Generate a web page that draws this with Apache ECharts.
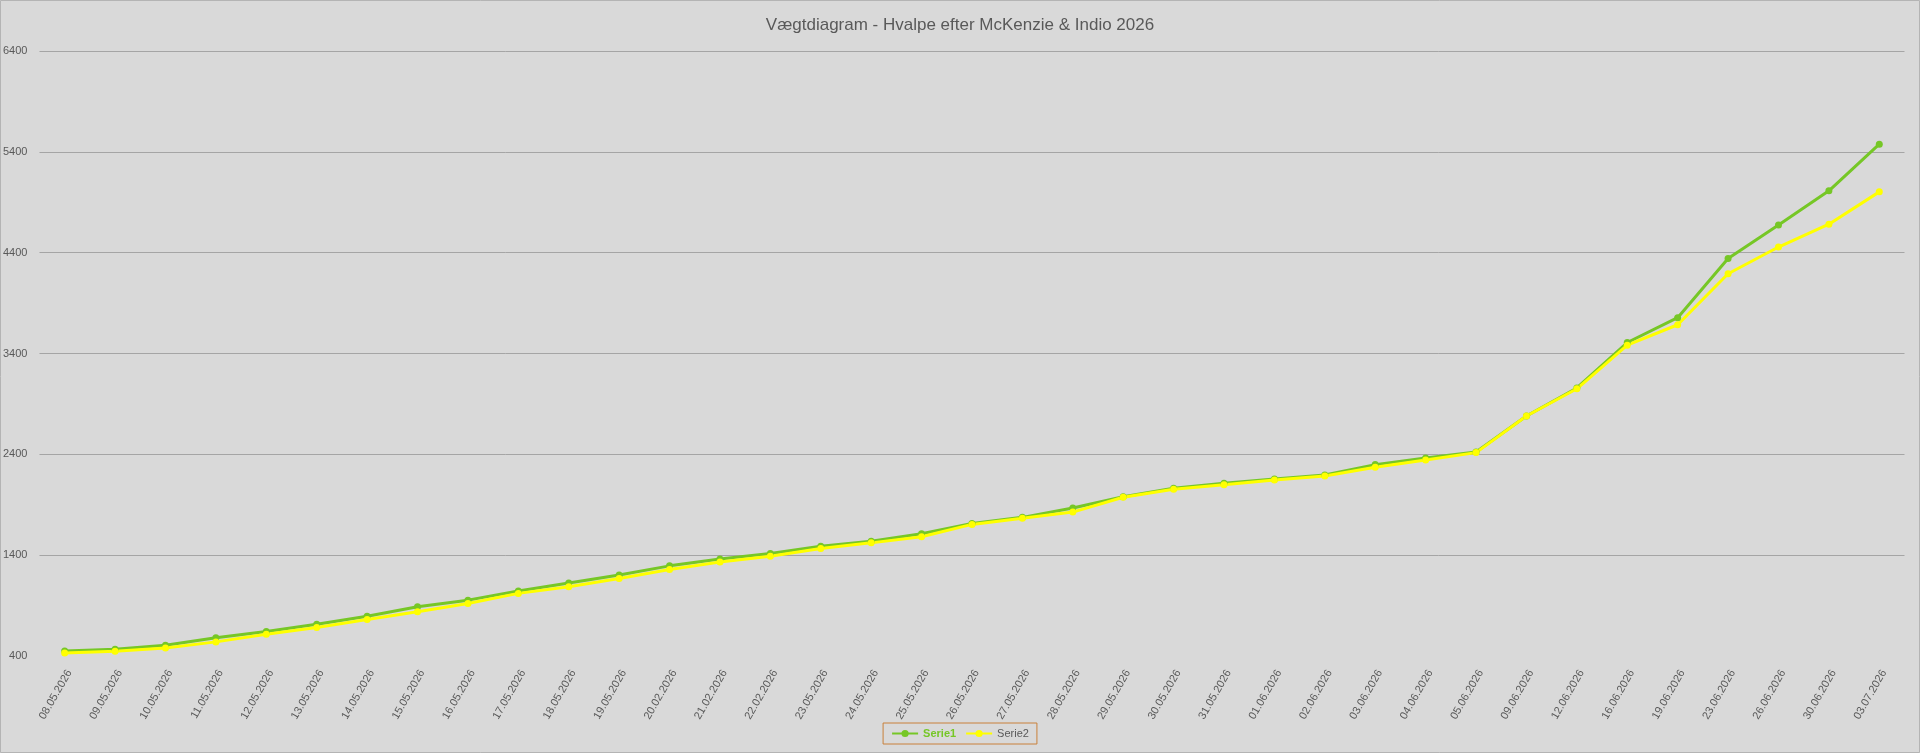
<!DOCTYPE html>
<html>
<head>
<meta charset="utf-8">
<script src="https://cdn.jsdelivr.net/npm/echarts@6/dist/echarts.min.js"></script>
<style>
html,body{margin:0;padding:0;background:#d9d9d9;}
#c{width:1920px;height:753px;}
</style>
</head>
<body>
<div id="c"></div>
<script>
const categories = ['08.05.2026','09.05.2026','10.05.2026','11.05.2026','12.05.2026','13.05.2026','14.05.2026','15.05.2026','16.05.2026','17.05.2026','18.05.2026','19.05.2026','20.02.2026','21.02.2026','22.02.2026','23.05.2026','24.05.2026','25.05.2026','26.05.2026','27.05.2026','28.05.2026','29.05.2026','30.05.2026','31.05.2026','01.06.2026','02.06.2026','03.06.2026','04.06.2026','05.06.2026','09.06.2026','12.06.2026','16.06.2026','19.06.2026','23.06.2026','26.06.2026','30.06.2026','03.07.2026'];
const serie1 = [450, 467, 507, 580, 642, 715, 795, 888, 954, 1044, 1125, 1204, 1294, 1363, 1417, 1489, 1539, 1612, 1715, 1775, 1867, 1980, 2063, 2113, 2156, 2196, 2298, 2364, 2424, 2780, 3058, 3509, 3755, 4343, 4675, 5013, 5476];
const serie2 = [430, 447, 480, 540, 616, 682, 762, 838, 921, 1021, 1086, 1169, 1258, 1333, 1390, 1466, 1522, 1582, 1705, 1765, 1827, 1975, 2053, 2099, 2146, 2186, 2272, 2344, 2417, 2780, 3050, 3483, 3685, 4191, 4456, 4682, 5003];
const yTicks = {min: 400, max: 6400, step: 1000};
const titleText = 'Vægtdiagram - Hvalpe efter McKenzie & Indio 2026';

const FONT = '"Liberation Sans", sans-serif';
const chart = echarts.init(document.getElementById('c'), null, {renderer: 'canvas'});
chart.setOption({
  backgroundColor: '#d9d9d9',
  animation: false,
  textStyle: {fontFamily: FONT},
  graphic: [{
    type: 'rect',
    silent: true,
    shape: {x: 0.5, y: 0.5, width: 1919, height: 752},
    style: {fill: 'none', stroke: '#b4b4b4', lineWidth: 1}
  }],
  title: {
    text: titleText,
    left: 'center',
    top: 12,
    textStyle: {fontFamily: FONT, fontSize: 17, fontWeight: 'normal', color: '#595959'}
  },
  legend: {
    bottom: 9,
    left: 'center',
    itemWidth: 26,
    itemHeight: 9,
    itemGap: 9,
    padding: [5, 8],
    borderColor: '#c9803a',
    borderWidth: 1,
    textStyle: {fontFamily: FONT, fontSize: 11, color: '#595959'},
    data: [
      {name: 'Serie1', textStyle: {color: '#76c726', fontWeight: 'bold'}},
      {name: 'Serie2'}
    ]
  },
  grid: {left: 38.5, right: 15.5, top: 51, bottom: 97, containLabel: false},
  xAxis: {
    type: 'category',
    data: categories,
    boundaryGap: true,
    axisLine: {show: false},
    axisTick: {show: false},
    axisLabel: {rotate: 60, interval: 0, margin: 12, verticalAlign: 'top', fontSize: 11, color: '#595959', fontFamily: FONT}
  },
  yAxis: {
    type: 'value',
    min: yTicks.min,
    max: yTicks.max,
    interval: yTicks.step,
    axisLine: {show: false},
    axisTick: {show: false},
    axisLabel: {margin: 12, fontSize: 11, color: '#595959', fontFamily: FONT, formatter: v => String(v)},
    splitLine: {show: true, showMinLine: false, lineStyle: {color: '#a5a5a5', width: 1}}
  },
  series: [
    {
      name: 'Serie1', type: 'line', data: serie1,
      symbol: 'circle', symbolSize: 7,
      lineStyle: {color: '#76c726', width: 3},
      itemStyle: {color: '#76c726'}
    },
    {
      name: 'Serie2', type: 'line', data: serie2,
      symbol: 'circle', symbolSize: 7,
      lineStyle: {color: '#ffff00', width: 3},
      itemStyle: {color: '#ffff00'}
    }
  ]
});
</script>
</body>
</html>
